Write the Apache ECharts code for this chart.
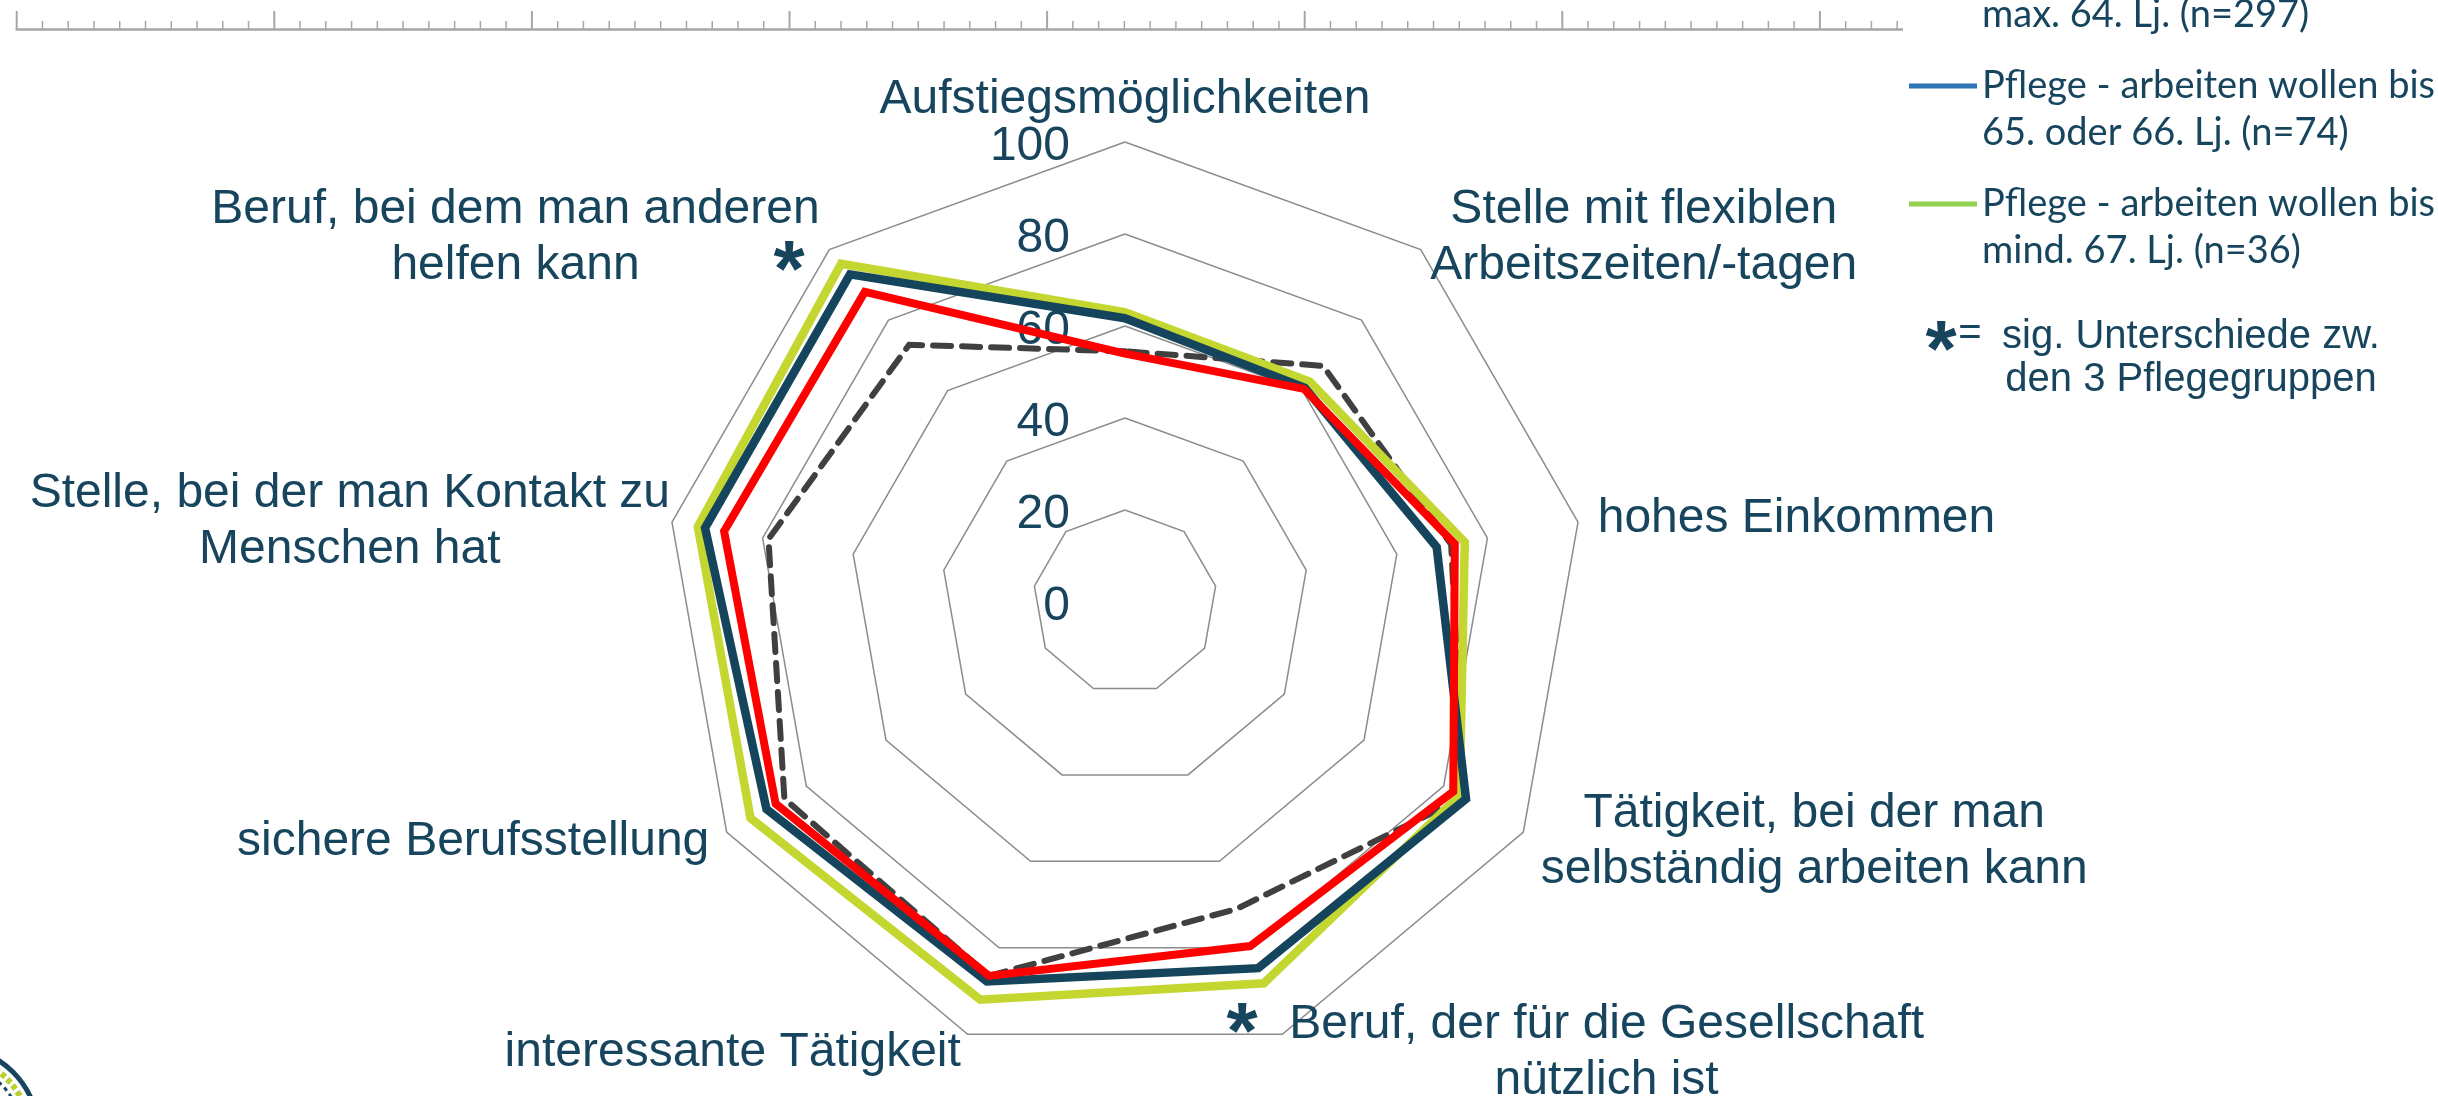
<!DOCTYPE html>
<html>
<head>
<meta charset="utf-8">
<title>Radar</title>
<script src="https://cdn.jsdelivr.net/npm/echarts@6/dist/echarts.min.js"></script>
<style>
html, body { margin: 0; padding: 0; background: #fff; }
#chart { width: 2438px; height: 1096px; }
</style>
</head>
<body>
<div id="chart"></div>
<script>
// axes counter-clockwise from the top (ECharts radar order)
const categories = [
    'Aufstiegsmöglichkeiten',
    'Beruf, bei dem man anderen\nhelfen kann',
    'Stelle, bei der man Kontakt zu\nMenschen hat',
    'sichere Berufsstellung',
    'interessante Tätigkeit',
    'Beruf, der für die Gesellschaft\nnützlich ist',
    'Tätigkeit, bei der man\nselbständig arbeiten kann',
    'hohes Einkommen',
    'Stelle mit flexiblen\nArbeitszeiten/-tagen'
];
const valueMin = 0;
const valueMax = 100;
const valueSteps = 5; // ticks 0, 20, 40, 60, 80, 100

const vergleich = [54.5, 73, 78.7, 85.5, 86.5, 71, 85, 72, 67];
const bis64 = [54, 88, 88.5, 87.7, 86.5, 79.6, 82.4, 72.8, 60.5];
const bis66 = [61.7, 93, 92.7, 90, 87.8, 84.7, 85.6, 68.8, 60.8];
const ab67 = [63, 96, 94.3, 94, 92, 88.2, 84, 75, 62.5];

const seriesNames = [
    'Vergleichsgruppe',
    'Pflege - arbeiten wollen bis\nmax. 64. Lj. (n=297)',
    'Pflege - arbeiten wollen bis\n65. oder 66. Lj. (n=74)',
    'Pflege - arbeiten wollen bis\nmind. 67. Lj. (n=36)'
];

const textColor = '#17455e';
const arial = '"Liberation Sans", Arial, sans-serif';
// label distance per axis where it differs from the default
const nameGaps = { 0: 14, 1: 15, 2: 2, 8: 15 };

const chart = echarts.init(document.getElementById('chart'));

// ruler at the top edge
const ruler = [];
const rulerLeft = 16.7, rulerStep = 25.76, rulerEnd = 1903, rulerY = 29.5;
ruler.push({
    type: 'line',
    shape: { x1: rulerLeft - 1, y1: rulerY, x2: rulerEnd, y2: rulerY },
    style: { stroke: '#a6a6a6', lineWidth: 2.5 }
});
for (let i = 0; rulerLeft + i * rulerStep < rulerEnd; i++) {
    const x = rulerLeft + i * rulerStep;
    const major = i % 10 === 0;
    ruler.push({
        type: 'line',
        shape: { x1: x, y1: major ? 11 : 21, x2: x, y2: rulerY },
        style: { stroke: '#a6a6a6', lineWidth: major ? 2 : 1.5 }
    });
}

function star(x, y) {
    return {
        type: 'text', x: x, y: y + 16, z: 10,
        style: {
            text: '*', fontSize: 80, fontWeight: 'bold', fontFamily: arial,
            fill: textColor, align: 'center', verticalAlign: 'middle'
        }
    };
}

function radarSeries(name, values, color, width, dash) {
    return {
        type: 'radar',
        name: name,
        symbol: 'none',
        silent: true,
        lineStyle: { color: color, width: width, type: dash || 'solid', cap: 'round', join: 'miter' },
        itemStyle: { color: color },
        data: [{ name: name, value: values }]
    };
}

const option = {
    backgroundColor: '#fff',
    animation: false,
    legend: {
        orient: 'vertical',
        left: 1909,
        top: -102.5,
        padding: 0,
        itemWidth: 68,
        itemHeight: 5,
        itemGap: -23,
        icon: 'rect',
        selectedMode: false,
        // leading empty line keeps the icon level with the first text line
        formatter: name => '\n' + name,
        textStyle: {
            fontFamily: 'Lato', fontSize: 38, lineHeight: 47, color: textColor
        },
        data: [
            { name: seriesNames[1], itemStyle: { color: '#ff0000' } },
            { name: seriesNames[2], itemStyle: { color: '#2e75b6' } },
            { name: seriesNames[3], itemStyle: { color: '#92d050' } }
        ]
    },
    radar: {
        center: [1125, 602],
        radius: 460,
        startAngle: 90,
        shape: 'polygon',
        splitNumber: valueSteps,
        axisNameGap: 20,
        indicator: categories.map((name, i) => {
            const ind = {
                name: name, min: valueMin, max: valueMax,
                nameMoveOverlap: false,
                axisLabel: { show: i === 0 }
            };
            if (nameGaps[i] !== undefined) ind.nameGap = nameGaps[i];
            return ind;
        }),
        axisName: {
            color: textColor, fontSize: 48, fontFamily: arial, lineHeight: 56,
            formatter: name => name.split('\n').map(l => '{c|' + l + '}').join('\n'),
            rich: {
                c: { align: 'center', color: textColor, fontSize: 48, fontFamily: arial, lineHeight: 56 }
            }
        },
        axisLine: { show: false },
        axisTick: { show: false },
        axisLabel: {
            show: false, margin: 55, verticalAlign: 'top', lineHeight: 10,
            color: textColor, fontSize: 48, fontFamily: arial
        },
        splitLine: { lineStyle: { color: '#8c8c8c', width: 1.5 } },
        splitArea: { show: false }
    },
    series: [
        radarSeries(seriesNames[0], vergleich, '#404040', 6, [18, 11]),
        radarSeries(seriesNames[3], ab67, '#c4d630', 8.5),
        radarSeries(seriesNames[2], bis66, '#15455c', 8.5),
        radarSeries(seriesNames[1], bis64, '#ff0000', 8)
    ],
    graphic: [
        ...ruler,
        star(789, 258),
        star(1242, 1020),
        star(1941, 338),
        {
            type: 'text', x: 1970, y: 334,
            style: { text: '=', fontSize: 40, fontFamily: arial, fill: textColor, align: 'center', verticalAlign: 'middle' }
        },
        {
            type: 'text', x: 2191, y: 358,
            style: {
                text: 'sig. Unterschiede zw.\nden 3 Pflegegruppen',
                fontSize: 40, lineHeight: 43, fontFamily: arial, fill: textColor,
                align: 'center', verticalAlign: 'middle'
            }
        },
        // logo corner
        { type: 'circle', shape: { cx: -50, cy: 1135, r: 89 }, style: { fill: '#fff', stroke: textColor, lineWidth: 5 } },
        { type: 'circle', shape: { cx: -50, cy: 1135, r: 80 }, style: { fill: 'none', stroke: '#b8cf2c', lineWidth: 6, lineDash: [5, 3] } },
        { type: 'circle', shape: { cx: -50, cy: 1135, r: 72 }, style: { fill: 'none', stroke: textColor, lineWidth: 3, lineDash: [4, 4] } }
    ]
};

chart.setOption(option);
</script>
</body>
</html>
